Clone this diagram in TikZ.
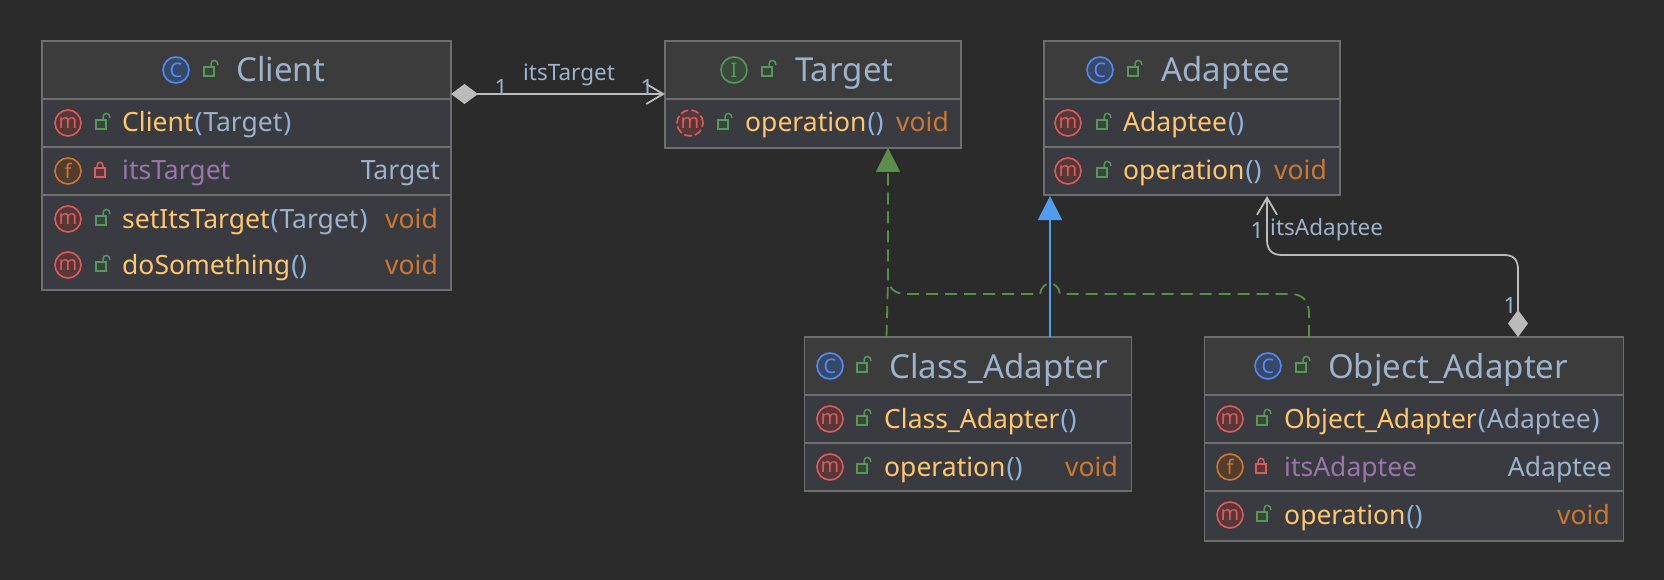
\documentclass[tikz,border=0pt]{standalone}
\usepackage{fontspec}
\setmainfont{Noto Sans}
\usepackage{xcolor}
\definecolor{PanelBack}{HTML}{2B2B2B}
\definecolor{HeadFill}{HTML}{3C3C3C}
\definecolor{RowFill}{HTML}{393B40}
\definecolor{BoxEdge}{HTML}{6E6E6E}
\definecolor{TitleBlue}{HTML}{9DB2CB}
\definecolor{MethodGold}{HTML}{FFC66D}
\definecolor{VoidOrange}{HTML}{CC7832}
\definecolor{FieldPurple}{HTML}{9876AA}
\definecolor{ParenBlue}{HTML}{8FB4DC}
\definecolor{LockGreen}{HTML}{57965C}
\definecolor{LockRed}{HTML}{DB5C5C}
\definecolor{LinkGray}{HTML}{BBBBBB}
\definecolor{LinkGreen}{HTML}{5A8F4A}
\definecolor{LinkBlue}{HTML}{4F9CF0}
\definecolor{IconBlue}{HTML}{548AF7}
\usetikzlibrary{arrows.meta, positioning, shapes.geometric}
\newcommand{\mth}[1]{\textcolor{MethodGold}{#1}}
\newcommand{\prn}[1]{\textcolor{ParenBlue}{\kern1pt\textbf{#1}\kern1pt}}
\newcommand{\typ}[1]{\textcolor{TitleBlue}{#1}}

\begin{document}
\begin{tikzpicture}[
  x=1pt, y=-1pt,
  classbox/.style={rectangle, draw=BoxEdge, fill=RowFill, line width=1.5pt, inner sep=0pt, outer sep=0pt, anchor=north west},
  headbox/.style={classbox, fill=HeadFill, minimum height=58pt},
  sepline/.style={BoxEdge, line width=1.5pt},
  title/.style={anchor=base west, inner sep=0pt, text=TitleBlue, font=\fontsize{33}{37}\selectfont},
  rowtext/.style={anchor=base west, inner sep=0pt, font=\fontsize{26.5}{30}\selectfont},
  rowtype/.style={anchor=base east, inner sep=0pt, text=TitleBlue, font=\fontsize{26.5}{30}\selectfont},
  rowvoid/.style={anchor=base east, inner sep=0pt, text=VoidOrange, font=\fontsize{26.5}{30}\selectfont},
  linklabel/.style={inner sep=0pt, text=TitleBlue, font=\fontsize{22.5}{26}\selectfont},
  icon/.style={circle, line width=1.6pt, minimum size=26pt, inner sep=0pt, font=\fontsize{20}{20}\selectfont},
  iconc/.style={icon, draw=IconBlue, fill=IconBlue!30!PanelBack, text=IconBlue},
  iconi/.style={icon, draw=LockGreen, fill=LockGreen!30!PanelBack, text=LockGreen},
  iconm/.style={icon, draw=LockRed, fill=LockRed!25!PanelBack, text=LockRed},
  iconf/.style={icon, draw=VoidOrange, fill=VoidOrange!25!PanelBack, text=VoidOrange},
  openlock/.pic={
    \draw[LockGreen, line width=1.5pt, fill=LockGreen!25!PanelBack] (-6,-1) rectangle (4,8);
    \draw[LockGreen, line width=1.5pt] (1,-1) -- (1,-4) .. controls (1,-9) and (8,-9) .. (8,-3);
  },
  shutlock/.pic={
    \draw[LockRed, line width=1.5pt, fill=LockRed!25!PanelBack] (-5,-1) rectangle (5,8);
    \draw[LockRed, line width=1.5pt] (-3,-1) -- (-3,-3) .. controls (-3,-8) and (3,-8) .. (3,-3) -- (3,-1);
  },
  compose/.style={LinkGray, line width=1.8pt},
  realize/.style={LinkGreen, line width=1.8pt, dash pattern=on 12pt off 7pt},
  extend/.style={LinkBlue, line width=1.8pt}
]
  \useasboundingbox (0,0) rectangle (1664,580);
  \fill[PanelBack] (0,0) rectangle (1664,580);

  % Client
  \node[classbox, minimum width=409pt, minimum height=249pt] (client) at (42,41) {};
  \node[headbox, minimum width=409pt] (clientHead) at (42,41) {};
  \draw[sepline] (42,147) -- (451,147);
  \draw[sepline] (42,195) -- (451,195);
  \node[iconc] (clientIcon) at (176,70) {C};
  \pic at (210,68) {openlock};
  \node[title] (clientName) at (236,82) {Client};
  \node[iconm] (clientCtorIcon) at (68,123) {m};
  \pic at (102,121) {openlock};
  \node[rowtext] (clientCtor) at (122,132) {\mth{Client}\prn{(}\typ{Target}\prn{)}};
  \node[iconf] (clientFieldIcon) at (68,171) {f};
  \pic at (100,169) {shutlock};
  \node[rowtext, text=FieldPurple] (clientField) at (122,180) {itsTarget};
  \node[rowtype] (clientFieldType) at (440,180) {Target};
  \node[iconm] (clientSetIcon) at (68,219) {m};
  \pic at (102,217) {openlock};
  \node[rowtext] (clientSet) at (122,228) {\mth{setItsTarget}\prn{(}\typ{Target}\prn{)}};
  \node[rowvoid] (clientSetVoid) at (438,228) {void};
  \node[iconm] (clientDoIcon) at (68,265) {m};
  \pic at (102,263) {openlock};
  \node[rowtext] (clientDo) at (122,274) {\mth{doSomething}\prn{()}};
  \node[rowvoid] (clientDoVoid) at (438,274) {void};

  % Target
  \node[classbox, minimum width=296pt, minimum height=107pt] (target) at (665,41) {};
  \node[headbox, minimum width=296pt] (targetHead) at (665,41) {};
  \node[iconi] (targetIcon) at (734,70) {I};
  \pic at (768,68) {openlock};
  \node[title] (targetName) at (795,82) {Target};
  \node[iconm, dash pattern=on 8pt off 3pt] (targetOpIcon) at (690,123) {m};
  \pic at (724,121) {openlock};
  \node[rowtext] (targetOp) at (745,132) {\mth{operation}\prn{()}};
  \node[rowvoid] (targetOpVoid) at (949,132) {void};

  % Adaptee
  \node[classbox, minimum width=296pt, minimum height=154pt] (adaptee) at (1044,41) {};
  \node[headbox, minimum width=296pt] (adapteeHead) at (1044,41) {};
  \draw[sepline] (1044,147) -- (1340,147);
  \node[iconc] (adapteeIcon) at (1100,70) {C};
  \pic at (1134,68) {openlock};
  \node[title] (adapteeName) at (1161,82) {Adaptee};
  \node[iconm] (adapteeCtorIcon) at (1068,123) {m};
  \pic at (1103,121) {openlock};
  \node[rowtext] (adapteeCtor) at (1123,132) {\mth{Adaptee}\prn{()}};
  \node[iconm] (adapteeOpIcon) at (1068,171) {m};
  \pic at (1103,169) {openlock};
  \node[rowtext] (adapteeOp) at (1123,180) {\mth{operation}\prn{()}};
  \node[rowvoid] (adapteeOpVoid) at (1327,180) {void};

  % Class_Adapter
  \node[classbox, minimum width=327pt, minimum height=154pt] (classAdapter) at (804.5,337) {};
  \node[headbox, minimum width=327pt] (classAdapterHead) at (804.5,337) {};
  \draw[sepline] (804.5,443) -- (1131.5,443);
  \node[iconc] (classAdapterIcon) at (830,366) {C};
  \pic at (863,364) {openlock};
  \node[title] (classAdapterName) at (889,378) {Class\_Adapter};
  \node[iconm] (classAdapterCtorIcon) at (830,419) {m};
  \pic at (863,417) {openlock};
  \node[rowtext] (classAdapterCtor) at (884,428) {\mth{Class\_Adapter}\prn{()}};
  \node[iconm] (classAdapterOpIcon) at (830,467) {m};
  \pic at (863,465) {openlock};
  \node[rowtext] (classAdapterOp) at (884,476) {\mth{operation}\prn{()}};
  \node[rowvoid] (classAdapterOpVoid) at (1118,476) {void};

  % Object_Adapter
  \node[classbox, minimum width=419pt, minimum height=204pt] (objectAdapter) at (1204.5,337) {};
  \node[headbox, minimum width=419pt] (objectAdapterHead) at (1204.5,337) {};
  \draw[sepline] (1204.5,443) -- (1623.5,443);
  \draw[sepline] (1204.5,491) -- (1623.5,491);
  \node[iconc] (objectAdapterIcon) at (1268,366) {C};
  \pic at (1302,364) {openlock};
  \node[title] (objectAdapterName) at (1328,378) {Object\_Adapter};
  \node[iconm] (objectAdapterCtorIcon) at (1230,419) {m};
  \pic at (1263,417) {openlock};
  \node[rowtext] (objectAdapterCtor) at (1284,428) {\mth{Object\_Adapter}\prn{(}\typ{Adaptee}\prn{)}};
  \node[iconf] (objectAdapterFieldIcon) at (1230,467) {f};
  \pic at (1261,465) {shutlock};
  \node[rowtext, text=FieldPurple] (objectAdapterField) at (1284,476) {itsAdaptee};
  \node[rowtype] (objectAdapterFieldType) at (1612,476) {Adaptee};
  \node[iconm] (objectAdapterOpIcon) at (1230,515) {m};
  \pic at (1263,513) {openlock};
  \node[rowtext] (objectAdapterOp) at (1284,524) {\mth{operation}\prn{()}};
  \node[rowvoid] (objectAdapterOpVoid) at (1610,524) {void};

  % Link ends
  \coordinate (clientOut) at (451,94);
  \coordinate (targetIn) at (665,94);
  \coordinate (targetUp) at (888,148);
  \coordinate (classReal) at (886.5,337);
  \coordinate (classBend) at (888,280);
  \coordinate (adapteeUp) at (1050,196);
  \coordinate (classExt) at (1050,337);
  \coordinate (adapteeIn) at (1267,196);
  \coordinate (objectOut) at (1518,337);
  \coordinate (objectReal) at (1309,337);

  % Links
  \draw[compose, {Diamond[length=27pt, width=20pt, fill=LinkGray]}-{Straight Barb[length=17pt, width=20pt]}] (clientOut) -- (targetIn);
  \draw[compose, {Straight Barb[length=17pt, width=20pt]}-{Diamond[length=27pt, width=20pt, fill=LinkGray]}] (adapteeIn) -- (1267,240) .. controls (1267,250) and (1272,255) .. (1282,255) -- (1504,255) .. controls (1514,255) and (1518,260) .. (1518,270) -- (objectOut);
  \draw[realize] (classReal) -- (classBend);
  \draw[realize, -{Triangle[length=24pt, width=24pt, fill=LinkGreen]}] (objectReal) -- (1309,314) .. controls (1309,301) and (1303,294) .. (1290,294) -- (1060,294) .. controls (1058,280) and (1042,280) .. (1040,294) -- (906,294) .. controls (895,294) and (888,288) .. (888,278) -- (targetUp);
  \draw[extend, -{Triangle[length=24pt, width=24pt, fill=LinkBlue]}] (classExt) -- (adapteeUp);

  % Link labels
  \node[linklabel] (targetRole) at (569,75) {itsTarget};
  \node[linklabel] (clientMult) at (501,87) {1};
  \node[linklabel] (targetMult) at (647,87) {1};
  \node[linklabel] (adapteeMult) at (1257,230) {1};
  \node[linklabel, anchor=west] (adapteeRole) at (1270,230) {itsAdaptee};
  \node[linklabel] (objectMult) at (1510,305) {1};
\end{tikzpicture}
\end{document}
